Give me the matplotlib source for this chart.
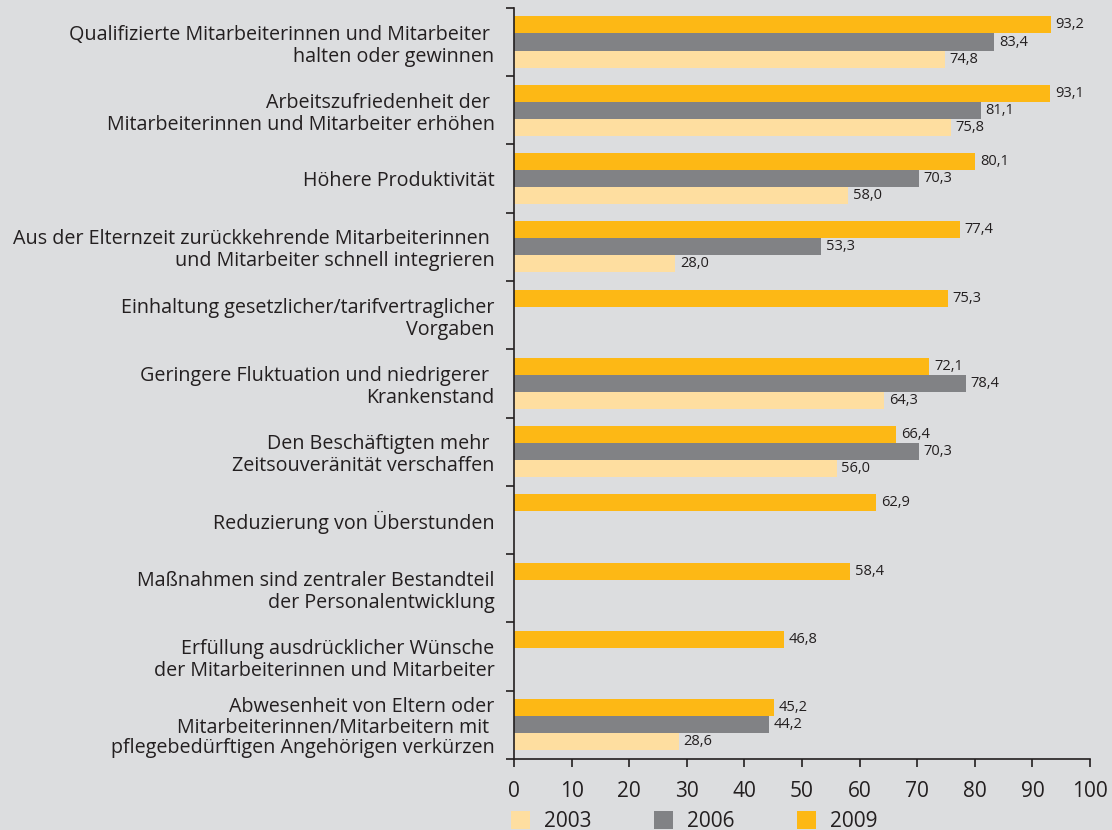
import numpy as np
import matplotlib.pyplot as plt
from matplotlib.patches import Patch

categories = [
    "Qualifizierte Mitarbeiterinnen und Mitarbeiter \nhalten oder gewinnen",
    "Arbeitszufriedenheit der \nMitarbeiterinnen und Mitarbeiter erhöhen",
    "Höhere Produktivität",
    "Aus der Elternzeit zurückkehrende Mitarbeiterinnen \nund Mitarbeiter schnell integrieren",
    "Einhaltung gesetzlicher/tarifvertraglicher\nVorgaben",
    "Geringere Fluktuation und niedrigerer \nKrankenstand",
    "Den Beschäftigten mehr \nZeitsouveränität verschaffen",
    "Reduzierung von Überstunden",
    "Maßnahmen sind zentraler Bestandteil\nder Personalentwicklung",
    "Erfüllung ausdrücklicher Wünsche\nder Mitarbeiterinnen und Mitarbeiter",
    "Abwesenheit von Eltern oder\nMitarbeiterinnen/Mitarbeitern mit \npflegebedürftigen Angehörigen verkürzen",
]
v2009 = [93.2, 93.1, 80.1, 77.4, 75.3, 72.1, 66.4, 62.9, 58.4, 46.8, 45.2]
v2006 = [83.4, 81.1, 70.3, 53.3, None, 78.4, 70.3, None, None, None, 44.2]
v2003 = [74.8, 75.8, 58.0, 28.0, None, 64.3, 56.0, None, None, None, 28.6]
years = ["2003", "2006", "2009"]
colors = {"2003": "#fedea0", "2006": "#818285", "2009": "#fdb815"}

plt.rcParams['font.family'] = ['Open Sans', 'DejaVu Sans']
bg = "#dcdddf"
txt = "#231f20"

fig = plt.figure(figsize=(11.12, 8.3), dpi=100, facecolor=bg)
ax = fig.add_axes([0.4622, 0.0855, 0.518, 0.905], facecolor=bg)

y = np.arange(len(categories))
h = 0.25
series = [("2009", v2009, -h), ("2006", v2006, 0.0), ("2003", v2003, h)]
for name, vals, off in series:
    for i, v in enumerate(vals):
        if v is None:
            continue
        ax.barh(y[i] + off, v, height=h, color=colors[name], linewidth=0)
        ax.text(v + 0.8, y[i] + off, f"{v:.1f}".replace(".", ","),
                va="center", ha="left", fontsize=10.5, color=txt)

ax.set_xlim(0, 100)
ax.set_ylim(len(categories) - 0.5, -0.5)
ax.set_xticks(range(0, 101, 10))
ax.tick_params(axis="x", labelsize=15, colors=txt, length=6, width=1.2, pad=10)
ax.set_yticks(np.arange(-0.5, len(categories), 1.0))
ax.set_yticklabels([])
ax.tick_params(axis="y", which="major", length=6, width=1.2, color=txt)
ax.set_yticks(y, minor=True)
ax.set_yticklabels(categories, minor=True, fontsize=14.2, color=txt, linespacing=1.14)
ax.tick_params(axis="y", which="minor", length=0, pad=14)
ax.get_yticklabels(minor=True)[-1].set_linespacing(1.02)

for s in ["top", "right"]:
    ax.spines[s].set_visible(False)
for s in ["left", "bottom"]:
    ax.spines[s].set_color(txt)
    ax.spines[s].set_linewidth(1.2)

handles = [Patch(facecolor=colors[yr], linewidth=0) for yr in years]
fig.legend(handles, years, loc="center left", bbox_to_anchor=(0.4595, 0.0102), ncol=3,
           frameon=False, fontsize=15, handlelength=0.91, handleheight=0.91,
           handletextpad=0.67, columnspacing=3.0, labelcolor=txt,
           borderpad=0, borderaxespad=0)

fig.savefig("out.png", dpi=100, facecolor=bg)
